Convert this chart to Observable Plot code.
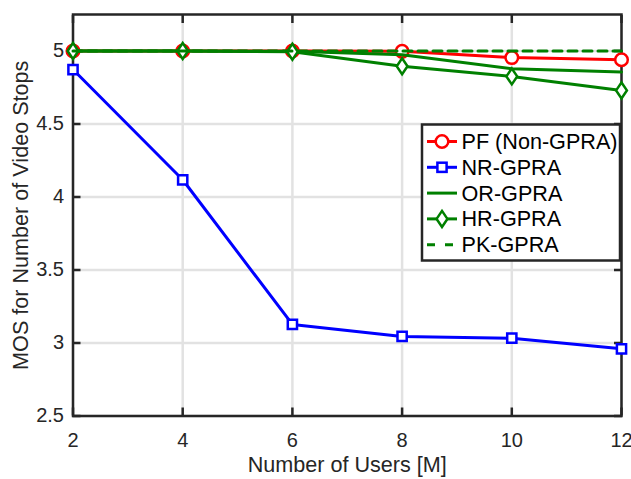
<!DOCTYPE html>
<html><head><meta charset="utf-8">
<script src="https://cdn.jsdelivr.net/npm/d3@7"></script>
<script src="https://cdn.jsdelivr.net/npm/@observablehq/plot@0.6"></script>
<style>
body{margin:0;background:#fff;}
#wrap{position:relative;width:631px;height:479px;font-family:"Liberation Sans",Arial,sans-serif;}
#wrap svg{display:block;}
#legend{position:absolute;left:0;top:0;pointer-events:none;}
</style></head><body><div id="wrap"></div>
<script>
const users = [2, 4, 6, 8, 10, 12];
const pf = [5.0, 5.0, 5.0, 4.998, 4.955, 4.94];
const nr = [4.873, 4.118, 3.127, 3.045, 3.033, 2.96];
const orv = [5.0, 5.0, 4.998, 4.974, 4.878, 4.857];
const hr = [5.0, 5.0, 4.995, 4.896, 4.826, 4.73];
const pk = [5.0, 5.0, 5.0, 5.0, 5.0, 5.0];
const seriesNames = ["PF (Non-GPRA)", "NR-GPRA", "OR-GPRA", "HR-GPRA", "PK-GPRA"];
const xTicks = [2, 4, 6, 8, 10, 12];
const yTicks = [2.5, 3, 3.5, 4, 4.5, 5];
const xLabel = "Number of Users [M]";
const yLabel = "MOS for Number of Video Stops";

const RED = "#ff0000", BLUE = "#0000ff", GREEN = "#008000", AX = "#262626";
function rows(vals, name) { return users.map((u, i) => ({x: u, y: vals[i], s: name})); }
const dPF = rows(pf, seriesNames[0]);
const dNR = rows(nr, seriesNames[1]);
const dOR = rows(orv, seriesNames[2]);
const dHR = rows(hr, seriesNames[3]);
const dPK = rows(pk, seriesNames[4]);

const diamond = {draw(ctx, size) {
  const r = Math.sqrt(size / Math.PI);
  const w = r * 0.98, h = r * 1.45;
  ctx.moveTo(0, -h); ctx.lineTo(w, 0); ctx.lineTo(0, h); ctx.lineTo(-w, 0); ctx.closePath();
}};

const LW = 3;
const LABEL_FS = 21.6, TICK_FS = 20;
const tickOpts = {tickSize: -8, tickFormat: () => "", label: null, stroke: AX, strokeWidth: 2.5};
const chart = Plot.plot({
  width: 631, height: 479,
  marginLeft: 72.5, marginRight: 10, marginTop: 14, marginBottom: 63.5,
  style: {fontFamily: '"Liberation Sans", Arial, sans-serif', background: "#fff", color: AX},
  x: {domain: [2, 12]},
  y: {domain: [2.5, 5.25]},
  marks: [
    Plot.gridX(xTicks, {stroke: "#e2e2e2", strokeOpacity: 1, strokeWidth: 2.5}),
    Plot.gridY(yTicks, {stroke: "#e2e2e2", strokeOpacity: 1, strokeWidth: 2.5}),
    Plot.frame({stroke: AX, strokeWidth: 2.5}),
    Plot.axisX(xTicks, {anchor: "bottom", ...tickOpts}),
    Plot.axisX(xTicks, {anchor: "top", ...tickOpts}),
    Plot.axisY(yTicks, {anchor: "left", ...tickOpts}),
    Plot.axisY(yTicks, {anchor: "right", ...tickOpts}),
    Plot.axisX(xTicks, {anchor: "bottom", tickSize: 0, tickPadding: 17, label: null, fontSize: TICK_FS, tickFormat: d => String(d)}),
    Plot.axisY(yTicks, {anchor: "left", tickSize: 0, tickPadding: 9, label: null, fontSize: TICK_FS, tickFormat: d => String(d)}),
    Plot.text([xLabel], {frameAnchor: "bottom", text: d => d, dy: 49, textAnchor: "middle", lineAnchor: "middle", fontSize: LABEL_FS, fill: AX}),
    Plot.text([yLabel], {frameAnchor: "left", text: d => d, dx: -51.5, rotate: -90, textAnchor: "middle", lineAnchor: "middle", fontSize: LABEL_FS, fill: AX}),
    Plot.line(dPF, {x: "x", y: "y", stroke: RED, strokeWidth: LW}),
    Plot.dot(dPF, {x: "x", y: "y", r: 6.3, symbol: "circle", stroke: RED, fill: "white", strokeWidth: 2.5}),
    Plot.line(dNR, {x: "x", y: "y", stroke: BLUE, strokeWidth: LW}),
    Plot.dot(dNR, {x: "x", y: "y", r: 5.2, symbol: "square", stroke: BLUE, fill: "white", strokeWidth: 2.5}),
    Plot.line(dOR, {x: "x", y: "y", stroke: GREEN, strokeWidth: LW}),
    Plot.line(dHR, {x: "x", y: "y", stroke: GREEN, strokeWidth: LW}),
    Plot.dot(dHR, {x: "x", y: "y", r: 5.5, symbol: diamond, stroke: GREEN, fill: "white", strokeWidth: 2.5}),
    Plot.line(dPK, {x: "x", y: "y", stroke: GREEN, strokeWidth: LW, strokeDasharray: "9,6"})
  ]
});
const wrap = document.getElementById("wrap");
wrap.appendChild(chart);

// Legend overlay
const lg = d3.select(wrap).append("svg").attr("id", "legend").attr("width", 631).attr("height", 479);
const L = {x: 422, y: 124.5, w: 198, h: 136};
lg.append("rect").attr("x", L.x).attr("y", L.y).attr("width", L.w).attr("height", L.h)
  .attr("fill", "white").attr("stroke", AX).attr("stroke-width", 2.5);
const legendItems = [
  {name: seriesNames[0], color: RED, marker: "circle", dash: null},
  {name: seriesNames[1], color: BLUE, marker: "square", dash: null},
  {name: seriesNames[2], color: GREEN, marker: null, dash: null},
  {name: seriesNames[3], color: GREEN, marker: "diamond", dash: null},
  {name: seriesNames[4], color: GREEN, marker: null, dash: "8,10"}
];
const FS = 21.6;
legendItems.forEach((it, i) => {
  const cy = 141.5 + i * 25.8;
  const g = lg.append("g");
  g.append("line").attr("x1", 427).attr("x2", 457).attr("y1", cy).attr("y2", cy)
    .attr("stroke", it.color).attr("stroke-width", LW).attr("stroke-dasharray", it.dash);
  if (it.marker === "circle") {
    g.append("circle").attr("cx", 442).attr("cy", cy).attr("r", 6.3).attr("fill", "white").attr("stroke", it.color).attr("stroke-width", 2.5);
  } else if (it.marker === "square") {
    g.append("rect").attr("x", 442 - 4.6).attr("y", cy - 4.6).attr("width", 9.2).attr("height", 9.2).attr("fill", "white").attr("stroke", it.color).attr("stroke-width", 2.5);
  } else if (it.marker === "diamond") {
    const w = 5.4, h = 8;
    g.append("path").attr("d", `M442,${cy - h}L${442 + w},${cy}L442,${cy + h}L${442 - w},${cy}Z`).attr("fill", "white").attr("stroke", it.color).attr("stroke-width", 2.5);
  }
  g.append("text").attr("x", 461.5).attr("y", cy + FS * 0.35).attr("font-size", FS)
    .attr("font-family", '"Liberation Sans", Arial, sans-serif').attr("fill", "#000").text(it.name);
});
</script>
</body></html>
